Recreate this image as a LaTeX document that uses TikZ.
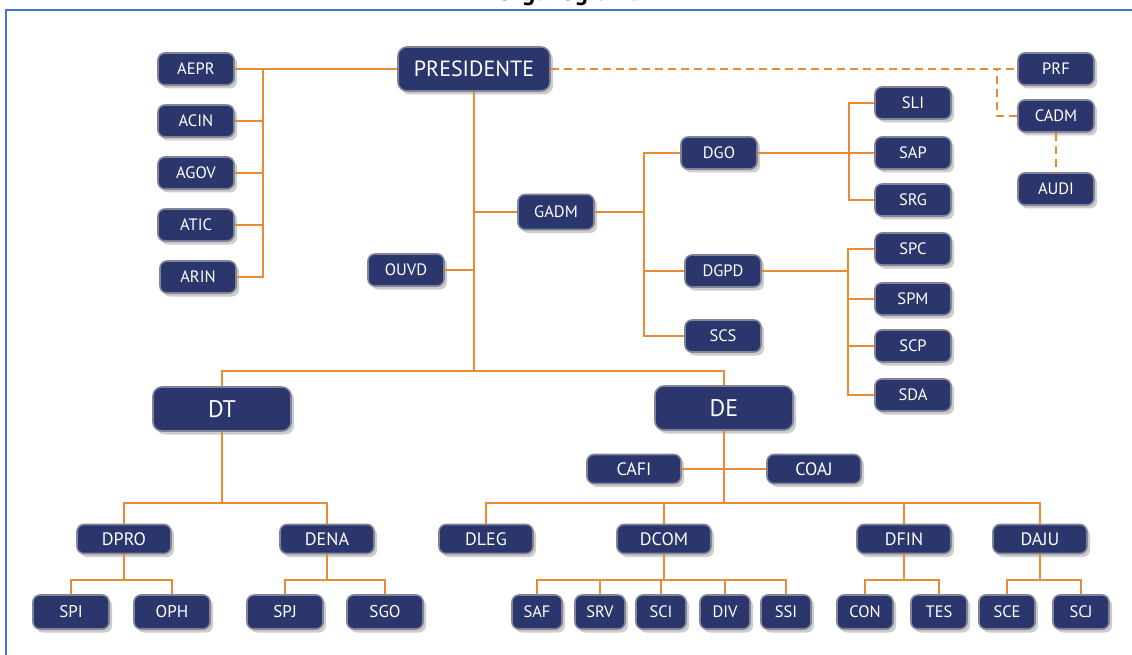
\documentclass[tikz,border=0pt]{standalone}
\usepackage{fontspec}
\setmainfont{PT Sans}
\usepackage{tikz}
\usetikzlibrary{shadows,calc}

\definecolor{boxnavy}{RGB}{42,54,108}
\definecolor{boxrim}{RGB}{128,132,150}
\definecolor{linkorange}{RGB}{234,138,52}
\definecolor{frameblue}{RGB}{70,116,200}

\begin{document}
\begin{tikzpicture}[x=1pt, y=-1pt,
    unit/.style={draw=boxrim, line width=1.6pt, fill=boxnavy, text=white,
      rounded corners=7pt, inner sep=0pt, minimum width=76pt, minimum height=32pt,
      font=\fontsize{16.5}{16.5}\selectfont,
      drop shadow={shadow xshift=3pt, shadow yshift=-3.5pt, opacity=0.4}},
    bigunit/.style={unit, minimum width=138pt, minimum height=44pt,
      rounded corners=9pt, font=\fontsize{24}{24}\selectfont},
    midunit/.style={unit, minimum width=94pt, minimum height=29pt,
      font=\fontsize{18}{18}\selectfont},
    lowunit/.style={unit, minimum width=76pt, minimum height=34pt,
      font=\fontsize{17}{17}\selectfont},
    tinyunit/.style={unit, minimum width=50pt, minimum height=34pt,
      font=\fontsize{16.5}{16.5}\selectfont},
    link/.style={linkorange, line width=2.7pt},
    dashlink/.style={link, dash pattern=on 8pt off 5pt}]
  \useasboundingbox (0,0) rectangle (1132,655);
  \clip (0,0) rectangle (1132,655);
  \node[anchor=base, font=\bfseries\fontsize{25}{25}\selectfont] (title) at (569,1) {Organograma};
  \draw[frameblue, line width=1.5pt] (1140,10) -- (6,10) -- (6,665);

  % top level and advisers
  \node[bigunit, minimum width=152pt, font=\fontsize{22}{22}\selectfont] (pres) at (474,69) {PRESIDENTE};
  \node[unit] (aepr) at (196,69) {AEPR};
  \node[unit] (acin) at (196,121) {ACIN};
  \node[unit] (agov) at (196,173) {AGOV};
  \node[unit] (atic) at (196,225) {ATIC};
  \node[unit] (arin) at (198,277) {ARIN};
  \node[unit, minimum height=35pt] (gadm) at (556,212) {GADM};
  \node[unit] (ouvd) at (406,270) {OUVD};
  \node[unit] (dgo) at (719,153) {DGO};
  \node[unit] (dgpd) at (723,271) {DGPD};
  \node[unit] (scs) at (723,336) {SCS};
  \node[unit] (sli) at (913,103) {SLI};
  \node[unit] (sap) at (913,153) {SAP};
  \node[unit] (srg) at (913,200) {SRG};
  \node[unit] (spc) at (913,249) {SPC};
  \node[unit] (spm) at (913,299) {SPM};
  \node[unit] (scp) at (913,346) {SCP};
  \node[unit] (sda) at (913,395) {SDA};
  \node[unit] (prf) at (1056,69) {PRF};
  \node[unit] (cadm) at (1056,116) {CADM};
  \node[unit] (audi) at (1056,189) {AUDI};

  % directorates
  \node[bigunit] (dt) at (222,409) {DT};
  \node[bigunit] (de) at (724,408) {DE};
  \node[midunit] (cafi) at (634,469) {CAFI};
  \node[midunit] (coaj) at (814,469) {COAJ};
  \node[midunit] (dpro) at (124,539) {DPRO};
  \node[midunit] (dena) at (327,539) {DENA};
  \node[midunit] (dleg) at (486,539) {DLEG};
  \node[midunit] (dcom) at (664,539) {DCOM};
  \node[midunit] (dfin) at (904,539) {DFIN};
  \node[midunit] (daju) at (1040,539) {DAJU};
  \node[lowunit] (spi) at (71,612) {SPI};
  \node[lowunit] (oph) at (172,612) {OPH};
  \node[lowunit] (spj) at (285,612) {SPJ};
  \node[lowunit] (sgo) at (385,612) {SGO};
  \node[tinyunit] (saf) at (537,612) {SAF};
  \node[tinyunit] (srv) at (600,612) {SRV};
  \node[tinyunit] (sci) at (661,612) {SCI};
  \node[tinyunit] (div) at (725,612) {DIV};
  \node[tinyunit] (ssi) at (786,612) {SSI};
  \node[tinyunit, minimum width=56pt] (con) at (865,612) {CON};
  \node[tinyunit, minimum width=56pt] (tes) at (939,612) {TES};
  \node[tinyunit, minimum width=56pt] (sce) at (1007,612) {SCE};
  \node[tinyunit, minimum width=56pt] (scj) at (1081,612) {SCJ};

  % junction points of the connectors
  \coordinate (abus) at (263,69);
  \coordinate (tbus) at (474,371);
  \coordinate (gbus) at (644,212);
  \coordinate (dgobus) at (849,153);
  \coordinate (dgpdbus) at (848,271);
  \coordinate (cbus) at (997,69);
  \coordinate (dtbus) at (222,503);
  \coordinate (debus) at (724,503);
  \coordinate (dprobus) at (124,580);
  \coordinate (denabus) at (327,580);
  \coordinate (dcombus) at (661,580);
  \coordinate (dfinbus) at (904,580);
  \coordinate (dajubus) at (1042,580);

  \draw[link] (aepr.east) -- (pres.west);
  \foreach \n in {acin,agov,atic,arin}
    \draw[link] (\n.east) -| (abus);
  \draw[link] (pres.south) -- (tbus);
  \draw[link] (gadm.west) -| (pres.south);
  \draw[link] (ouvd.east) -| (pres.south);
  \draw[link] (gadm.east) -- (gbus);
  \foreach \n in {dgo,dgpd,scs}
    \draw[link] (\n.west) -| (gbus);
  \draw[link] (dgo.east) -- (dgobus);
  \foreach \n in {sli,sap,srg}
    \draw[link] (\n.west) -| (dgobus);
  \draw[link] (dgpd.east) -- (dgpdbus);
  \foreach \n in {spc,spm,scp,sda}
    \draw[link] (\n.west) -| (dgpdbus);
  \draw[dashlink] (pres.east) -- (prf.west);
  \draw[dashlink] (cadm.west) -| (cbus);
  \draw[dashlink] (cadm.south) -- (audi.north);
  \draw[link] (dt.north) |- (tbus);
  \draw[link] (de.north) |- (tbus);
  \draw[link] (dt.south) -- (dtbus);
  \foreach \n in {dpro,dena}
    \draw[link] (\n.north) |- (dtbus);
  \draw[link] (de.south) -- (debus);
  \draw[link] (cafi.east) -- (coaj.west);
  \foreach \n in {dleg,dcom,dfin,daju}
    \draw[link] (\n.north) |- (debus);
  \draw[link] (dpro.south) -- (dprobus);
  \foreach \n in {spi,oph}
    \draw[link] (\n.north) |- (dprobus);
  \draw[link] (dena.south) -- (denabus);
  \foreach \n in {spj,sgo}
    \draw[link] (\n.north) |- (denabus);
  \draw[link] (dcom.south) -- (dcom.south |- dcombus);
  \foreach \n in {saf,srv,sci,div,ssi}
    \draw[link] (\n.north) |- (dcombus);
  \draw[link] (dfin.south) -- (dfinbus);
  \foreach \n in {con,tes}
    \draw[link] (\n.north) |- (dfinbus);
  \draw[link] (daju.south) -- (daju.south |- dajubus);
  \foreach \n in {sce,scj}
    \draw[link] (\n.north) |- (dajubus);
\end{tikzpicture}
\end{document}
